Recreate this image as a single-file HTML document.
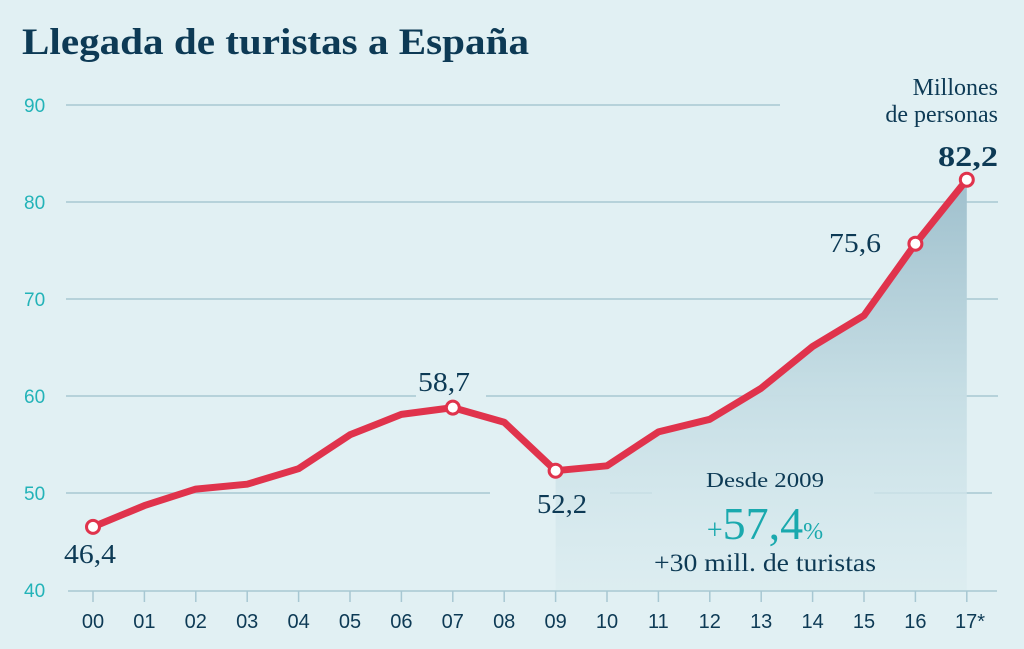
<!DOCTYPE html>
<html><head><meta charset="utf-8"><style>
html,body{margin:0;padding:0;background:#e1f0f3;}
svg{display:block;}
</style></head><body>
<svg width="1024" height="649" viewBox="0 0 1024 649" xmlns="http://www.w3.org/2000/svg">
<defs>
<linearGradient id="g" x1="0" y1="0" x2="0" y2="1">
<stop offset="0" stop-color="#9fc0cd"/>
<stop offset="0.5" stop-color="#c5dde4"/>
<stop offset="1" stop-color="#d9ebef" stop-opacity="0.6"/>
</linearGradient>
</defs>
<rect width="1024" height="649" fill="#e1f0f3"/>
<text x="22" y="54" font-family="Liberation Serif, serif" font-weight="bold" font-size="37" fill="#0d3a55" textLength="507" lengthAdjust="spacingAndGlyphs">Llegada de turistas a España</text>
<g stroke="#a7c7d2" stroke-width="1.5">
<line x1="66" y1="105" x2="780" y2="105"/>
<line x1="66" y1="202" x2="998" y2="202"/>
<line x1="66" y1="299" x2="998" y2="299"/>
<line x1="66" y1="396" x2="416" y2="396"/>
<line x1="486" y1="396" x2="998" y2="396"/>
<line x1="66" y1="493" x2="490" y2="493"/>
<line x1="610" y1="493" x2="652" y2="493"/>
<line x1="874" y1="493" x2="992" y2="493"/>
</g>
<g font-family="Liberation Sans, sans-serif" font-size="19" fill="#23b3b8">
<text x="24" y="112">90</text><text x="24" y="209">80</text><text x="24" y="306">70</text>
<text x="24" y="403">60</text><text x="24" y="500">50</text><text x="24" y="597">40</text>
</g>
<polygon points="555.6,470.7 607,465.8 658.4,431.9 709.8,419.3 761.2,388.2 812.6,346.5 864,315.5 915.4,243.7 966.8,179.7 966.8,590 555.6,590" fill="url(#g)"/>
<line x1="68" y1="591" x2="997" y2="591" stroke="#a7c7d2" stroke-width="1.5"/>
<g stroke="#a7c7d2" stroke-width="1.5">
<line x1="93" y1="591" x2="93" y2="602"/><line x1="144.4" y1="591" x2="144.4" y2="602"/><line x1="195.8" y1="591" x2="195.8" y2="602"/><line x1="247.2" y1="591" x2="247.2" y2="602"/><line x1="298.6" y1="591" x2="298.6" y2="602"/><line x1="350" y1="591" x2="350" y2="602"/><line x1="401.4" y1="591" x2="401.4" y2="602"/><line x1="452.8" y1="591" x2="452.8" y2="602"/><line x1="504.2" y1="591" x2="504.2" y2="602"/><line x1="555.6" y1="591" x2="555.6" y2="602"/><line x1="607" y1="591" x2="607" y2="602"/><line x1="658.4" y1="591" x2="658.4" y2="602"/><line x1="709.8" y1="591" x2="709.8" y2="602"/><line x1="761.2" y1="591" x2="761.2" y2="602"/><line x1="812.6" y1="591" x2="812.6" y2="602"/><line x1="864" y1="591" x2="864" y2="602"/><line x1="915.4" y1="591" x2="915.4" y2="602"/><line x1="966.8" y1="591" x2="966.8" y2="602"/>
</g>
<g font-family="Liberation Sans, sans-serif" font-size="20" fill="#0d3a55" text-anchor="middle">
<text x="93" y="628">00</text><text x="144.4" y="628">01</text><text x="195.8" y="628">02</text><text x="247.2" y="628">03</text><text x="298.6" y="628">04</text><text x="350" y="628">05</text><text x="401.4" y="628">06</text><text x="452.8" y="628">07</text><text x="504.2" y="628">08</text><text x="555.6" y="628">09</text><text x="607" y="628">10</text><text x="658.4" y="628">11</text><text x="709.8" y="628">12</text><text x="761.2" y="628">13</text><text x="812.6" y="628">14</text><text x="864" y="628">15</text><text x="915.4" y="628">16</text><text x="970" y="628">17*</text>
</g>
<polyline points="93,526.9 144.4,505.6 195.8,489.1 247.2,484.2 298.6,468.7 350,434.8 401.4,414.4 452.8,407.6 504.2,422.2 555.6,470.7 607,465.8 658.4,431.9 709.8,419.3 761.2,388.2 812.6,346.5 864,315.5 915.4,243.7 966.8,179.7" fill="none" stroke="#e0334c" stroke-width="7" stroke-linejoin="round" stroke-linecap="round"/>
<g fill="#fff" stroke="#e0334c" stroke-width="3">
<circle cx="93" cy="526.9" r="6.5"/><circle cx="452.8" cy="407.6" r="6.5"/><circle cx="555.6" cy="470.7" r="6.5"/><circle cx="915.4" cy="243.7" r="6.5"/><circle cx="966.8" cy="179.7" r="6.5"/>
</g>
<g font-family="Liberation Serif, serif" fill="#0d3a55">
<text x="64" y="563" font-size="27" textLength="52" lengthAdjust="spacingAndGlyphs">46,4</text>
<text x="418" y="391" font-size="27" textLength="52" lengthAdjust="spacingAndGlyphs">58,7</text>
<text x="537" y="513" font-size="27" textLength="50" lengthAdjust="spacingAndGlyphs">52,2</text>
<text x="829" y="252" font-size="27" textLength="52" lengthAdjust="spacingAndGlyphs">75,6</text>
<text x="938" y="166" font-size="28" font-weight="bold" textLength="60" lengthAdjust="spacingAndGlyphs">82,2</text>
<text x="998" y="95" font-size="24" text-anchor="end">Millones</text>
<text x="998" y="122" font-size="24" text-anchor="end">de personas</text>
<text x="706" y="487" font-size="21" textLength="118" lengthAdjust="spacingAndGlyphs">Desde 2009</text>
<text x="654" y="571" font-size="25" textLength="222" lengthAdjust="spacingAndGlyphs">+30 mill. de turistas</text>
<text x="765" y="539" text-anchor="middle" fill="#1aa9ae"><tspan font-size="28">+</tspan><tspan font-size="46">57,4</tspan><tspan font-size="24">%</tspan></text>
</g>
</svg>
</body></html>
